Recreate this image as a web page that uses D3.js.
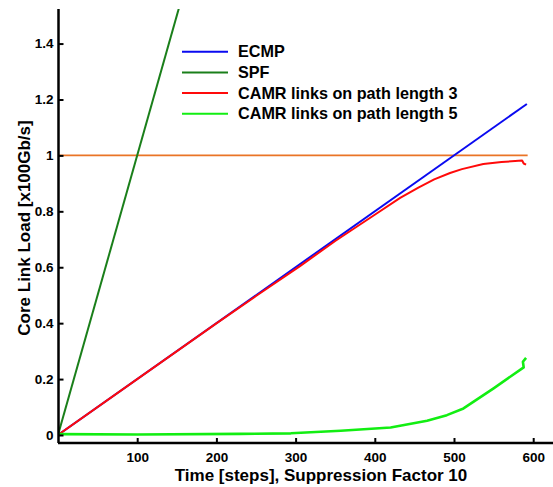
<!DOCTYPE html>
<html><head><meta charset="utf-8">
<script src="https://cdn.jsdelivr.net/npm/d3@7/dist/d3.min.js"></script>
<style>body{margin:0;background:#fff}svg{display:block}text{font-family:"Liberation Sans",Arial,sans-serif;font-weight:bold;fill:#000}</style>
</head><body><svg id="c" width="553" height="487"></svg>
<script>
const xTicks = [100, 200, 300, 400, 500, 600];
const yTicks = [0, 0.2, 0.4, 0.6, 0.8, 1, 1.2, 1.4];
const seriesNames = ["ECMP", "SPF", "CAMR links on path length 3", "CAMR links on path length 5"];
const seriesColors = ["#0a0af0", "#1a7f1a", "#ff0a0a", "#12ee12"];
const ecmp = [[0, 0], [592, 1.184]];
const spf = [[0, 0], [160, 1.6]];
const camr3 = [[0,0],[100,0.2],[200,0.399],[250,0.497],[306,0.605],[350,0.694],[399,0.786],[432,0.848],[455,0.885],[475,0.914],[495,0.937],[510,0.951],[537,0.969],[560,0.976],[586,0.982],[588,0.971],[591,0.967]];
const camr5 = [[0,0.003],[100,0.002],[230,0.004],[294,0.006],[357,0.015],[420,0.027],[466,0.051],[491,0.071],[512,0.095],[550,0.167],[588,0.242],[587,0.262],[591,0.276]];
const threshold = [[0, 1], [593, 1]];
const thresholdColor = "#ea7426";
const series = [ecmp, spf, camr3, camr5];

const svg = d3.select("#c");
const x = d3.scaleLinear().domain([0, 625]).range([58, 553]);
const y = d3.scaleLinear().domain([-0.0286, 1.5236]).range([443, 9]);

svg.append("clipPath").attr("id","clip").append("rect")
  .attr("x", 58).attr("y", 9).attr("width", 495).attr("height", 434);

const line = d3.line().x(d => x(d[0])).y(d => y(d[1]));
const g = svg.append("g").attr("clip-path","url(#clip)");
g.append("path").datum(threshold).attr("d", line).attr("fill","none")
  .attr("stroke", thresholdColor).attr("stroke-width", 1.8);
[1,0,2,3].forEach(i => {
  g.append("path").datum(series[i]).attr("d", line).attr("fill","none")
    .attr("stroke", seriesColors[i]).attr("stroke-width", i===3 ? 2.6 : 2)
    .attr("stroke-linejoin","round");
});

const xa = svg.append("g").attr("transform","translate(0,443)")
  .call(d3.axisBottom(x).tickValues(xTicks).tickSizeInner(-5).tickSizeOuter(0).tickPadding(9.5).tickFormat(d3.format("d")));
const ya = svg.append("g").attr("transform","translate(58.5,0)")
  .call(d3.axisLeft(y).tickValues(yTicks).tickSizeInner(-5).tickSizeOuter(0).tickPadding(5).tickFormat(d => d3.format("~g")(d)));
[xa, ya].forEach(a => {
  a.select(".domain").attr("stroke","#000").attr("stroke-width",2.5);
  a.selectAll(".tick line").attr("stroke","#000").attr("stroke-width",2);
  a.selectAll(".tick text").style("font-size","13.5px").style("font-weight","bold")
   .attr("font-family","Liberation Sans, Arial, sans-serif");
});
ya.select(".domain").attr("d","M0,443V9");
xa.select(".domain").attr("d","M58,0H553");

svg.append("text").attr("x", 321).attr("y", 481).attr("text-anchor","middle")
  .style("font-size","17px").text("Time [steps], Suppression Factor 10");
svg.append("text").attr("transform","translate(30,228) rotate(-90)").attr("text-anchor","middle")
  .style("font-size","17px").text("Core Link Load [x100Gb/s]");

const lg = svg.append("g");
seriesNames.forEach((n, i) => {
  const yy = 51.7 + i * 20.7;
  lg.append("line").attr("x1", 182).attr("x2", 228).attr("y1", yy).attr("y2", yy)
    .attr("stroke", seriesColors[i]).attr("stroke-width", 2);
  lg.append("text").attr("x", 238).attr("y", yy + 5.5).style("font-size","16.2px").text(n);
});
</script></body></html>
